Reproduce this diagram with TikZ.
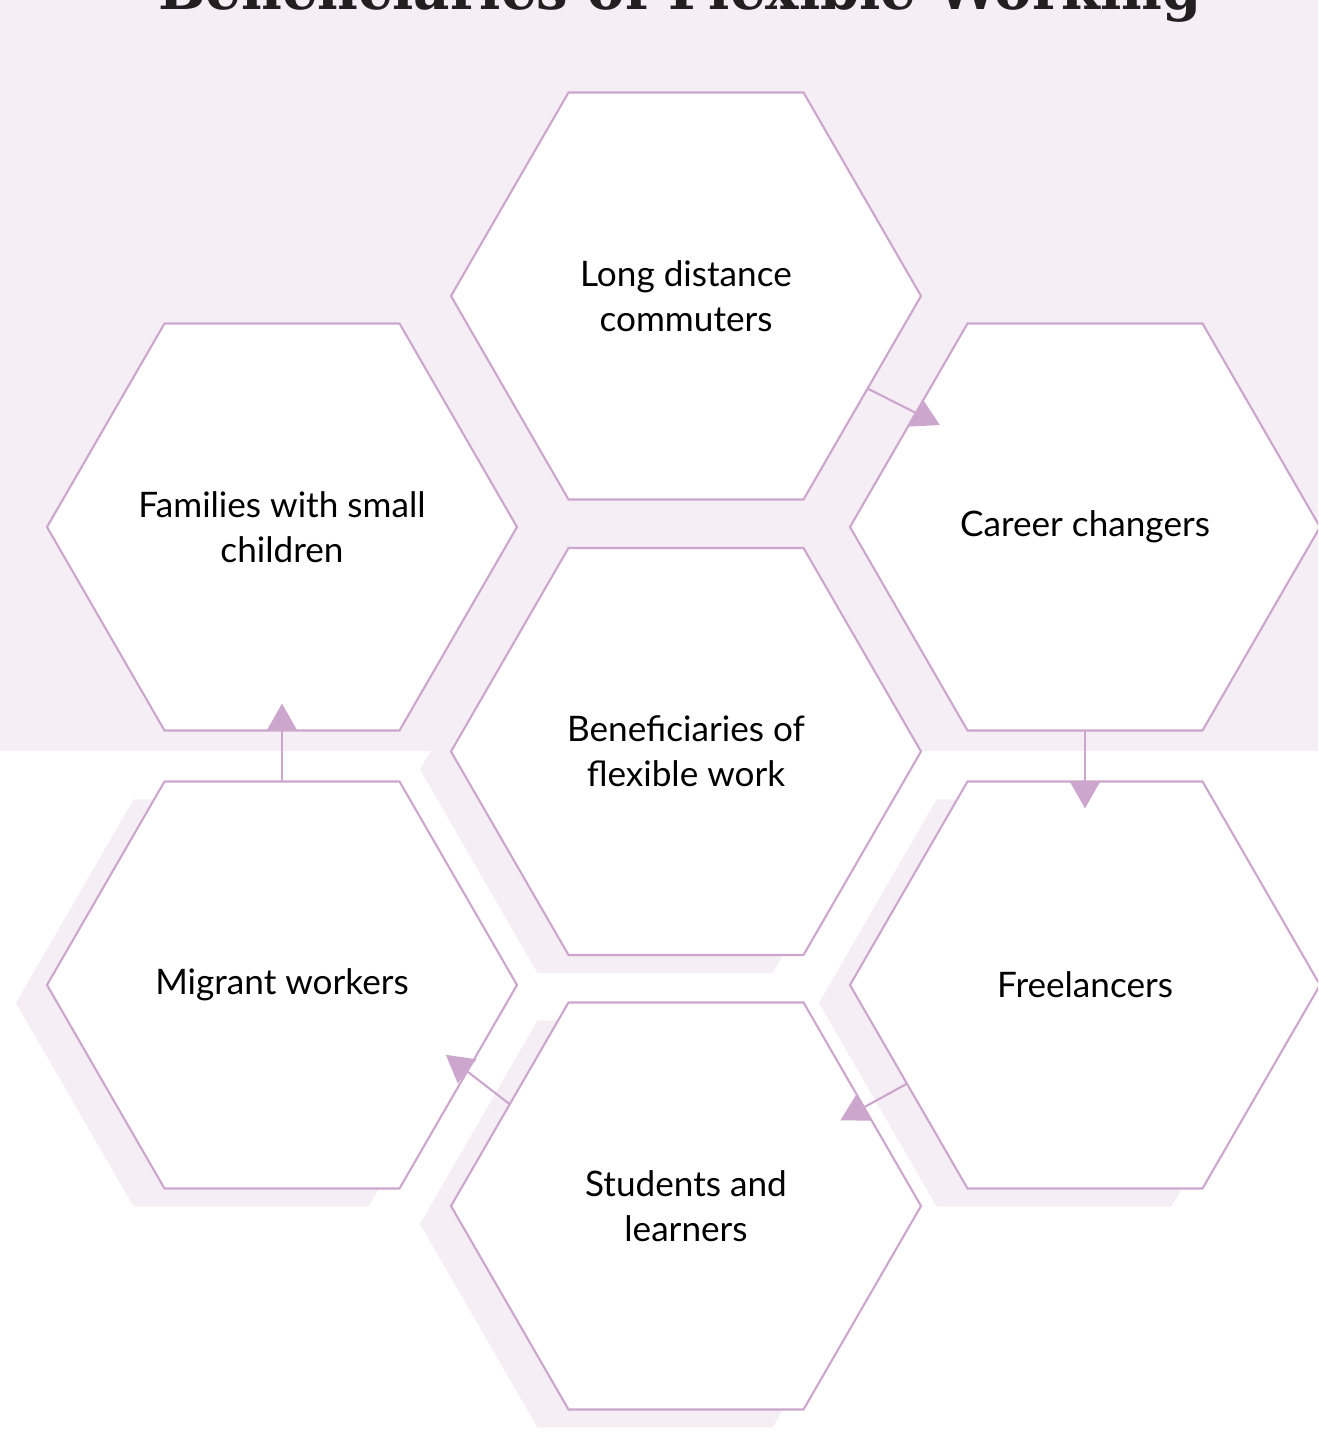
\documentclass[tikz,border=0pt]{standalone}
\usepackage{fontspec}
\setmainfont{Lato}
\newfontfamily\headfont{DejaVu Serif}
\usetikzlibrary{shapes.geometric,arrows.meta,shadows}

\definecolor{lilacbg}{RGB}{245,238,245}
\definecolor{lilacline}{RGB}{205,166,205}
\definecolor{headink}{RGB}{35,31,32}

\begin{document}
\begin{tikzpicture}[
    hexcell/.style={regular polygon, regular polygon sides=6,
      minimum size=4.70cm, inner sep=0pt, outer sep=0pt,
      draw=lilacline, line width=0.6pt, fill=white,
      align=center, font=\fontsize{10}{12.8}\selectfont,
      drop shadow={shadow xshift=-0.31cm, shadow yshift=-0.18cm,
        fill=lilacbg, opacity=1, draw=none}},
    flow/.style={draw=lilacline, line width=0.6pt,
      -{Triangle[width=0.30cm, length=0.27cm]}, shorten >=-0.27cm}
  ]
    \clip (0,0) rectangle (13.18,14.40);
    \fill[lilacbg] (0,6.89) rectangle (13.18,14.40);
    \node[anchor=base, text=headink,
      font=\headfont\bfseries\fontsize{16.5}{18}\selectfont]
      (title) at (6.80,14.30) {\scalebox{0.967}[1]{Beneficiaries of Flexible Working}};

    % the seven cells
    \foreach \name/\pos/\txt in {
        top/{6.86,11.44}/{Long distance\\commuters},
        fam/{2.82,9.13}/{Families with small\\children},
        car/{10.85,9.13}/{Career changers},
        mid/{6.86,6.885}/{Beneficiaries of\\flexible work},
        mig/{2.82,4.55}/{Migrant workers},
        free/{10.85,4.55}/{Freelancers},
        stud/{6.86,2.34}/{Students and\\learners}}
    {
      \node[hexcell] (\name) at (\pos) {\txt};
    }

    % arrows round the ring
    \draw[flow] (top.-27) -- (car.146);
    \draw[flow] (car.-90) -- (free.90);
    \draw[flow] (free.209) -- (stud.29);
    \draw[flow] (stud.150) -- (mig.-25);
    \draw[flow] (mig.90) -- (fam.-90);
  \end{tikzpicture}
\end{document}
